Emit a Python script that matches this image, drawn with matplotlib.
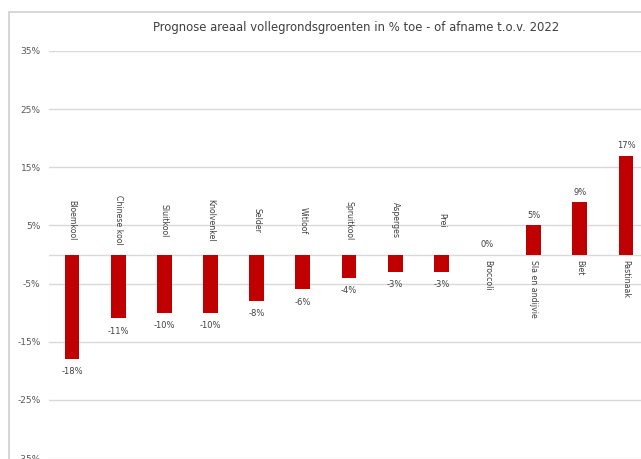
import matplotlib
matplotlib.use("Agg")
import matplotlib.pyplot as plt
from matplotlib.patches import Rectangle

# data
groenten = ["Bloemkool", "Chinese kool", "Sluitkool", "Knolvenkel", "Selder",
            "Witloof", "Spruitkool", "Asperges", "Prei", "Broccoli",
            "Sla en andijvie", "Biet", "Pastinaak"]
procent = [-18, -11, -10, -10, -8, -6, -4, -3, -3, 0, 5, 9, 17]
yticks = [-35, -25, -15, -5, 5, 15, 25, 35]
titel = "Prognose areaal vollegrondsgroenten in % toe - of afname t.o.v. 2022"

rood = "#C00000"
grijs_tekst = "#404040"
grijs_lijn = "#D9D9D9"

fig = plt.figure(figsize=(6.41, 4.59), dpi=100)

# kader rond de grafiek (rechts en onder buiten beeld)
fig.patches.append(Rectangle((9 / 641, -0.1), 1.0, 1 - 12 / 459 + 0.1,
                             transform=fig.transFigure, fill=False,
                             edgecolor="#D0D0D0", linewidth=1.2))

ax = fig.add_axes([49 / 641, 1 / 459, 600 / 641, 407 / 459])
x = list(range(len(groenten)))

ax.set_xlim(-0.5, len(groenten) - 0.5)
ax.set_ylim(-35, 35)
ax.set_yticks(yticks)
ax.set_yticklabels([f"{v}%" for v in yticks], fontsize=6.5, color="#595959")
ax.tick_params(axis="y", length=0, pad=6)
ax.set_xticks([])
for s in ax.spines.values():
    s.set_visible(False)
ax.grid(axis="y", color=grijs_lijn, linewidth=1)
ax.axhline(0, color=grijs_lijn, linewidth=1, zorder=1)
ax.set_axisbelow(True)

ax.bar(x, procent, width=0.32, color=rood, zorder=2)

for i, (naam, v) in enumerate(zip(groenten, procent)):
    if v < 0:
        ax.annotate(f"{v}%", (i, v), xytext=(0, -6), textcoords="offset points",
                    ha="center", va="top", fontsize=6, color=grijs_tekst)
        ax.text(i, 5.9, naam, rotation=270, ha="center", va="center",
                fontsize=5.6, color=grijs_tekst)
    else:
        ax.annotate(f"{v}%", (i, v), xytext=(0, 4), textcoords="offset points",
                    ha="center", va="bottom", fontsize=6, color=grijs_tekst)
        ax.text(i, -1.0, naam, rotation=270, ha="center", va="top",
                fontsize=5.6, color=grijs_tekst)

fig.text(356 / 641, 1 - 27 / 459, titel, ha="center", va="center",
         fontsize=8.4, color="#404040")

fig.savefig("out.png", dpi=100)
